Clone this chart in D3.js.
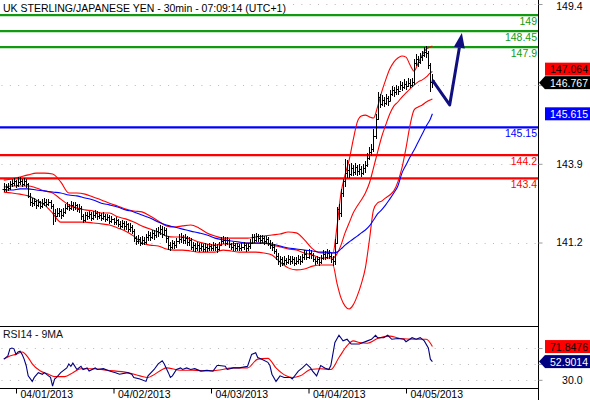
<!DOCTYPE html>
<html lang="en">
<head>
  <meta charset="UTF-8">
  <title>GBP/JPY 30min</title>
  <script src="https://d3js.org/d3.v7.min.js"></script>
  <style>
    body { margin: 0; background: #fff; }
    svg { display: block; font-family: "Liberation Sans", Arial, sans-serif; font-size: 10.5px; }
  </style>
</head>
<body>
<svg width="590" height="400"></svg>
<script>
const title = `UK STERLING/JAPANESE YEN - 30min - 07:09:14 (UTC+1)`;
const rsiTitle = `RSI14 - 9MA`;

// 30 minute bars, first one opens Sunday 31 March 21:00
const firstBar = Date.UTC(2013, 2, 31, 21, 0);
const dayTicks = ['2013-04-01', '2013-04-02', '2013-04-03', '2013-04-04', '2013-04-05'];
const priceTicks = [141.2, 143.9, 146.6, 149.4];
const rsiTicks = [30, 50, 70];

const highs = [
  143.20,143.18,143.22,143.28,143.36,143.38,143.32,143.40,143.42,143.36,
  143.38,143.34,143.20,142.85,142.68,142.70,142.64,142.66,142.60,142.65,
  142.68,142.65,142.66,142.62,142.50,142.30,142.35,142.36,142.30,142.34,
  142.48,142.55,142.50,142.58,142.55,142.56,142.50,142.48,142.42,142.15,
  142.22,142.22,142.25,142.20,142.25,142.28,142.24,142.22,142.18,142.20,
  142.15,142.16,142.12,142.08,142.02,142.05,141.98,141.92,141.95,141.90,
  141.90,141.85,141.82,141.78,141.62,141.40,141.42,141.36,141.38,141.35,
  141.45,141.55,141.52,141.60,141.58,141.68,141.70,141.75,141.72,141.70,
  141.65,141.40,141.20,141.25,141.22,141.32,141.45,141.48,141.44,141.45,
  141.38,141.36,141.32,141.20,141.15,141.18,141.14,141.16,141.12,141.14,
  141.12,141.15,141.12,141.18,141.14,141.10,141.20,141.35,141.38,141.34,
  141.36,141.30,141.16,141.18,141.14,141.16,141.12,141.14,141.18,141.14,
  141.16,141.30,141.46,141.45,141.48,141.46,141.42,141.44,141.40,141.40,
  141.36,141.25,141.18,141.10,140.95,140.80,140.72,140.68,140.70,140.65,
  140.75,140.70,140.72,140.66,140.68,140.74,140.70,140.78,140.92,140.88,
  140.95,140.90,140.82,140.68,140.72,140.66,140.75,140.90,140.86,140.94,
  140.90,140.80,140.70,141.30,142.40,142.49,143.00,143.34,144.03,144.00,
  143.85,143.90,143.82,143.88,143.82,143.85,143.80,143.85,143.95,144.25,
  144.45,144.55,145.06,145.57,146.33,146.25,146.22,146.15,146.25,146.20,
  146.40,146.52,146.50,146.58,146.55,146.72,146.68,146.76,146.72,146.80,
  146.78,146.82,147.46,147.62,147.58,147.65,147.75,147.86,147.90,147.75,
  147.32,146.95
];
const lows = [
  142.95,142.98,143.00,143.05,143.15,143.18,143.12,143.15,143.20,143.14,
  143.18,143.10,142.75,142.50,142.45,142.48,142.40,142.46,142.38,142.42,
  142.48,142.45,142.48,142.40,141.83,141.95,142.10,142.12,142.05,142.10,
  142.20,142.35,142.30,142.36,142.32,142.35,142.28,142.25,142.00,141.92,
  141.95,142.00,142.05,141.98,142.02,142.08,142.02,142.04,141.96,142.00,
  141.95,141.98,141.88,141.90,141.82,141.85,141.78,141.70,141.72,141.68,
  141.66,141.60,141.58,141.52,141.25,141.15,141.18,141.12,141.15,141.14,
  141.18,141.30,141.28,141.35,141.32,141.40,141.42,141.48,141.40,141.45,
  141.22,140.98,140.95,141.00,141.02,141.05,141.20,141.22,141.18,141.20,
  141.12,141.10,140.98,140.96,140.92,140.95,140.90,140.94,140.90,140.92,
  140.92,140.95,140.94,140.96,140.95,140.88,140.95,141.10,141.18,141.12,
  141.15,141.06,140.98,140.96,140.95,140.96,140.94,140.95,140.98,140.92,
  140.95,141.02,141.18,141.22,141.25,141.25,141.18,141.22,141.15,141.18,
  141.10,141.00,140.95,140.84,140.65,140.45,140.40,140.42,140.45,140.45,
  140.48,140.46,140.50,140.42,140.45,140.50,140.46,140.52,140.65,140.62,
  140.68,140.66,140.55,140.45,140.48,140.44,140.50,140.65,140.62,140.68,
  140.66,140.52,140.42,140.45,141.18,142.00,142.10,142.80,143.15,143.45,
  143.45,143.50,143.52,143.55,143.50,143.55,143.48,143.55,143.62,143.82,
  144.05,144.20,144.35,144.80,145.42,145.85,145.90,145.88,145.95,145.92,
  146.10,146.25,146.24,146.30,146.30,146.45,146.42,146.50,146.48,146.56,
  146.54,146.58,146.65,147.28,147.25,147.35,147.45,147.60,147.58,147.20,
  146.40,146.55
];
const closes = [
  143.05,143.12,143.08,143.20,143.25,143.30,143.18,143.28,143.32,143.22,
  143.30,143.20,142.80,142.60,142.55,142.62,142.50,142.58,142.45,142.55,
  142.60,142.52,142.58,142.45,142.20,142.10,142.20,142.28,142.15,142.25,
  142.40,142.45,142.38,142.50,142.42,142.48,142.35,142.40,142.10,141.98,
  142.15,142.10,142.18,142.05,142.15,142.22,142.10,142.16,142.05,142.12,
  142.02,142.08,141.95,142.00,141.90,141.96,141.85,141.78,141.88,141.75,
  141.82,141.68,141.74,141.60,141.35,141.25,141.32,141.20,141.30,141.22,
  141.38,141.45,141.40,141.52,141.45,141.60,141.55,141.65,141.50,141.62,
  141.35,141.10,141.05,141.18,141.10,141.25,141.32,141.40,141.28,141.35,
  141.22,141.30,141.05,141.12,141.02,141.10,141.00,141.08,140.98,141.06,
  141.00,141.08,141.02,141.10,141.04,140.98,141.12,141.25,141.30,141.20,
  141.28,141.15,141.05,141.10,141.02,141.08,141.00,141.06,141.10,141.02,
  141.08,141.20,141.38,141.30,141.42,141.35,141.28,141.36,141.25,141.32,
  141.18,141.10,141.05,140.90,140.75,140.55,140.65,140.50,140.60,140.52,
  140.65,140.55,140.62,140.50,140.58,140.65,140.55,140.70,140.80,140.72,
  140.85,140.78,140.62,140.55,140.62,140.52,140.68,140.80,140.72,140.85,
  140.75,140.62,140.55,141.20,142.35,142.20,142.90,143.30,143.60,143.70,
  143.55,143.75,143.62,143.78,143.65,143.72,143.60,143.75,143.85,144.10,
  144.30,144.40,144.85,145.45,146.20,145.95,146.10,145.98,146.15,146.05,
  146.30,146.42,146.35,146.48,146.40,146.60,146.52,146.65,146.58,146.68,
  146.62,146.72,147.35,147.50,147.40,147.55,147.62,147.75,147.70,147.30,
  146.70,146.767
];

// Bollinger bands and the blue moving average, read at these bars
const bandBars = [
  0,4,8,12,16,20,24,28,32,36,40,44,48,52,56,60,64,68,72,76,
  80,84,88,92,96,100,104,108,112,116,120,124,128,132,136,140,144,148,152,156,
  160,162,164,166,168,170,172,174,176,178,180,182,184,186,188,190,192,194,196,198,
  200,202,204,206,208,210,211
];
const bbUpper = [
  143.34,143.38,143.45,143.52,143.58,143.58,143.55,143.28,142.90,142.90,
  142.86,142.76,142.66,142.55,142.45,142.35,142.28,142.25,142.11,141.94,
  141.77,141.73,141.77,141.80,141.70,141.53,141.42,141.35,141.35,141.35,
  141.35,141.39,141.42,141.46,141.49,141.56,141.53,141.29,140.98,140.84,
  140.84,140.84,141.73,142.90,143.52,144.03,144.72,145.33,145.54,145.57,
  145.51,145.47,145.85,146.36,146.78,147.15,147.39,147.53,147.60,147.56,
  147.29,147.08,147.36,147.63,147.84,147.91,147.94
];
const bbMiddle = [
  143.10,143.14,143.14,143.14,143.07,142.97,142.90,142.69,142.49,142.38,
  142.32,142.28,142.21,142.21,142.08,142.01,141.90,141.77,141.66,141.56,
  141.42,141.39,141.39,141.32,141.22,141.15,141.11,141.15,141.15,141.18,
  141.18,141.18,141.18,141.11,141.05,140.98,140.94,140.84,140.77,140.67,
  140.67,140.67,140.81,141.11,141.53,141.87,142.21,142.45,142.66,142.90,
  143.24,143.76,144.30,144.82,145.23,145.61,145.88,146.02,146.19,146.33,
  146.47,146.60,146.71,146.78,146.88,147.02,147.064
];
const bbLower = [
  142.93,142.90,142.86,142.80,142.66,142.49,142.21,141.90,141.90,141.90,
  141.90,141.87,141.84,141.80,141.70,141.59,141.42,141.18,141.11,141.08,
  140.98,140.94,140.94,140.91,140.87,140.87,140.87,140.94,140.91,140.87,
  140.87,140.87,140.84,140.77,140.53,140.33,140.26,140.29,140.39,140.43,
  140.43,140.43,139.81,139.30,139.02,138.92,139.06,139.37,139.78,140.33,
  141.29,142.32,142.56,142.62,142.73,142.83,142.97,143.28,143.76,144.44,
  145.23,145.75,145.85,145.92,146.02,146.09,146.12
];
const maBlue = [
  143.00,143.00,143.04,143.04,143.00,142.97,142.93,142.90,142.83,142.80,
  142.73,142.66,142.55,142.49,142.42,142.32,142.25,142.14,142.04,141.90,
  141.80,141.73,141.66,141.59,141.53,141.46,141.35,141.29,141.25,141.22,
  141.18,141.18,141.18,141.15,141.08,141.01,140.98,140.94,140.91,140.87,
  140.87,140.84,140.87,140.98,141.11,141.22,141.32,141.42,141.53,141.63,
  141.77,141.97,142.18,142.32,142.49,142.69,142.90,143.14,143.58,143.86,
  144.13,144.37,144.65,144.92,145.20,145.44,145.615
];

// horizontal price levels
const greenLevels = [149, 148.45, 147.9];
const blueLevels = [145.15];
const redLevels = [144.2, 143.4];

// projected path drawn as an arrow
const projBars = [211, 219.5, 225.5];
const projPrices = [146.767, 145.92, 148.39];

// RSI14 and its 9 bar average
const rsiBars = [
  0,2,3,4,5,6,7,8,9,10,11,12,14,15,17,19,20,22,23,24,
  25,26,28,31,32,33,34,36,38,39,41,42,45,46,49,52,55,57,61,63,
  64,67,70,71,74,76,78,79,81,82,83,85,87,88,90,92,94,97,100,103,
  105,106,109,110,113,116,120,122,124,125,127,130,131,132,134,136,138,141,142,145,
  147,149,151,152,154,156,158,160,161,163,165,167,169,171,175,179,181,183,184,187,
  189,191,194,197,198,201,203,205,207,209,210,211
];
const rsiValues = [
  56,60,69,70,69,62,65,66,62,56,48,35,28,33,39,37,39,35,33,22,
  31,33,39,45,50,47,51,43,47,43,45,41,45,43,44,41,39,37,39,37,
  33,31,28,35,43,50,54,50,39,33,35,43,45,43,45,43,44,41,42,41,
  48,48,47,43,45,45,47,62,64,58,56,52,48,37,28,35,33,33,31,41,
  45,50,45,41,35,48,45,43,48,77,86,79,81,75,75,79,81,86,83,83,
  86,81,82,81,78,83,81,83,79,70,56,52.9014
];
const rsiMaBars = [
  0,3,6,9,12,14,18,22,25,30,34,38,44,51,61,67,71,73,78,80,
  87,93,100,105,113,120,125,130,134,139,142,146,151,156,161,165,169,172,175,179,
  184,190,195,202,208,211
];
const rsiMaValues = [
  56,60,62,65,58,50,41,37,34,34,39,44,44,42,39,35,33,35,43,45,
  42,42,41,42,45,45,56,57,45,35,33,35,43,44,43,58,73,79,77,76,
  82,85,82,81,81,71.8476
];

const svg = d3.select('svg');
const plotRight = 538.5;
const mainBottom = 326.5;
const rsiBottom = 388.5;
const green = '#119a11';

const halfHour = 30 * 60 * 1000;
const x = d3.scaleUtc()
  .domain([Date.UTC(2013, 3, 1), Date.UTC(2013, 3, 5)])
  .range([16, 406]);
const xBar = i => x(new Date(firstBar + i * halfHour));

const yPrice = d3.scaleLinear().domain([138.336, 149.519]).range([326, 0]);
const yRsi = d3.scaleLinear().domain([19.7, 97.7]).range([388, 326]);

svg.append('clipPath').attr('id', 'mainClip')
  .append('rect').attr('x', 0).attr('y', 0).attr('width', plotRight).attr('height', 326);

// dotted grid
const grid = svg.append('g')
  .attr('stroke', '#b8b8b8')
  .attr('stroke-dasharray', '1,7.33');
priceTicks.forEach(v => {
  const yy = Math.max(4, Math.round(yPrice(v))) + 0.5;
  grid.append('line').attr('x1', 1.5).attr('x2', 536).attr('y1', yy).attr('y2', yy);
});
rsiTicks.forEach(v => {
  const yy = Math.round(yRsi(v)) + 0.5;
  grid.append('line').attr('x1', 1.5).attr('x2', 536).attr('y1', yy).attr('y2', yy);
});

const main = svg.append('g').attr('clip-path', 'url(#mainClip)');

// horizontal levels
const levelGroups = [
  { values: greenLevels, color: green },
  { values: blueLevels, color: '#0000ff' },
  { values: redLevels, color: '#ff0000' },
];
levelGroups.forEach(g => {
  g.values.forEach(v => {
    main.append('line')
      .attr('x1', 0).attr('x2', plotRight)
      .attr('y1', yPrice(v)).attr('y2', yPrice(v))
      .attr('stroke', g.color).attr('stroke-width', 2.2);
    svg.append('text')
      .attr('x', 537).attr('y', yPrice(v) + 9.5)
      .attr('text-anchor', 'end')
      .attr('fill', g.color)
      .text(v);
  });
});

// bands + moving average
const bandLine = vals => d3.line()
  .x((b, k) => xBar(b))
  .y((b, k) => yPrice(vals[k]))
  .curve(d3.curveMonotoneX)(bandBars);

[bbUpper, bbMiddle, bbLower].forEach(vals => {
  main.append('path').attr('d', bandLine(vals))
    .attr('fill', 'none').attr('stroke', '#ff0000').attr('stroke-width', 1.1);
});
main.append('path').attr('d', bandLine(maBlue))
  .attr('fill', 'none').attr('stroke', '#0000ff').attr('stroke-width', 1.1);

// OHLC bars (open = previous close)
const bars = closes.map((c, i) => ({
  i, o: i ? closes[i - 1] : c, h: highs[i], l: lows[i], c,
}));
main.append('g')
  .attr('stroke', '#000')
  .attr('stroke-width', 1)
  .attr('fill', 'none')
  .selectAll('path')
  .data(bars)
  .join('path')
  .attr('d', d => {
    const cx = Math.round(xBar(d.i)) + 0.5;
    const yo = Math.round(yPrice(d.o)) + 0.5;
    const yc = Math.round(yPrice(d.c)) + 0.5;
    return `M${cx},${Math.round(yPrice(d.h)) - 1}V${Math.round(yPrice(d.l)) + 1}` +
      `M${cx - 2},${yo}H${cx}M${cx},${yc}H${cx + 2}`;
  });

// projection arrow
const proj = projBars.map((b, k) => [xBar(b), yPrice(projPrices[k])]);
const tip = proj[proj.length - 1];
const prev = proj[proj.length - 2];
const len = Math.hypot(tip[0] - prev[0], tip[1] - prev[1]);
const ux = (tip[0] - prev[0]) / len;
const uy = (tip[1] - prev[1]) / len;
const headLen = 15, headW = 5.5;
const base = [tip[0] - ux * headLen, tip[1] - uy * headLen];
main.append('path')
  .attr('d', d3.line()(proj.slice(0, -1).concat([base])))
  .attr('fill', 'none').attr('stroke', '#0f0f80').attr('stroke-width', 3)
  .attr('stroke-linejoin', 'round');
main.append('path')
  .attr('d', d3.line()([tip, [base[0] - uy * headW, base[1] + ux * headW], [base[0] + uy * headW, base[1] - ux * headW]]) + 'Z')
  .attr('fill', '#0f0f80');

// RSI panel
const rsiLine = (idx, vals, curve) => d3.line()
  .x(b => xBar(b))
  .y((b, k) => yRsi(vals[k]))
  .curve(curve)(idx);
svg.append('path').attr('d', rsiLine(rsiMaBars, rsiMaValues, d3.curveMonotoneX))
  .attr('fill', 'none').attr('stroke', '#ff0000').attr('stroke-width', 1.1);
svg.append('path').attr('d', rsiLine(rsiBars, rsiValues, d3.curveLinear))
  .attr('fill', 'none').attr('stroke', '#000080').attr('stroke-width', 1.1);

// frame lines
svg.append('line').attr('x1', 0).attr('x2', plotRight).attr('y1', mainBottom).attr('y2', mainBottom).attr('stroke', '#000');
svg.append('line').attr('x1', 0).attr('x2', plotRight).attr('y1', rsiBottom).attr('y2', rsiBottom).attr('stroke', '#000');
svg.append('line').attr('x1', plotRight).attr('x2', plotRight).attr('y1', 0).attr('y2', 400).attr('stroke', '#000');

// titles
svg.append('rect').attr('x', 0).attr('y', 0).attr('width', 289).attr('height', 13).attr('fill', '#fff');
svg.append('text').attr('x', 3).attr('y', 11.5).attr('fill', '#000').text(title);
svg.append('text').attr('x', 3).attr('y', 337.5).attr('fill', '#111').text(rsiTitle);

// value boxes on the right
function placeBoxes(list, scale) {
  list.forEach(b => { b.y = scale(b.v); });
  const sorted = list.slice().sort((a, b) => a.y - b.y);
  for (let k = 1; k < sorted.length; k++) {
    const gap = sorted[k].y - sorted[k - 1].y;
    if (gap < 13.5) {
      const push = (13.5 - gap) / 2;
      sorted[k - 1].y -= push;
      sorted[k].y += push;
    }
  }
  return list;
}
const priceBoxes = placeBoxes([
  { v: bbMiddle[bbMiddle.length - 1], fill: '#ff0000', ink: '#000', digits: 3 },
  { v: closes[closes.length - 1], fill: '#000', ink: '#fff', digits: 3, arrow: true },
  { v: maBlue[maBlue.length - 1], fill: '#0000ff', ink: '#fff', digits: 3 },
], yPrice);
const rsiBoxes = placeBoxes([
  { v: rsiMaValues[rsiMaValues.length - 1], fill: '#ff0000', ink: '#000', digits: 4 },
  { v: rsiValues[rsiValues.length - 1], fill: '#000080', ink: '#fff', digits: 4, arrow: true },
], yRsi);

// axes
const yAxis = d3.axisRight(yPrice).tickValues(priceTicks).tickSize(4).tickFormat(d3.format('.1f'));
const gy = svg.append('g').attr('transform', `translate(${plotRight},0)`).call(yAxis);
const rAxis = d3.axisRight(yRsi).tickValues(rsiTicks).tickSize(4).tickFormat(d3.format('.1f'));
const gr = svg.append('g').attr('transform', `translate(${plotRight},0)`).call(rAxis);
[[gy, priceBoxes], [gr, rsiBoxes]].forEach(([g, boxes]) => {
  g.select('.domain').remove();
  g.selectAll('.tick line').attr('stroke', '#999');
  g.selectAll('.tick').each(function () {
    const ty = +this.getAttribute('transform').match(/,([\d.]+)\)/)[1];
    const tick = d3.select(this);
    const lift = Math.max(0, 7 - ty);
    tick.select('line').attr('y1', Math.max(0, 4.5 - ty)).attr('y2', Math.max(0, 4.5 - ty));
    tick.select('text')
      .attr('text-anchor', 'end')
      .attr('x', 44)
      .attr('y', lift)
      .attr('font-size', '10.5px')
      .attr('font-family', '"Liberation Sans", Arial, sans-serif')
      .attr('fill', '#000');
    if (boxes.some(b => Math.abs(b.y - ty) < 11)) tick.select('text').remove();
  });
});

const xAxis = d3.axisBottom(x)
  .tickValues(dayTicks.map(d => new Date(d + 'T00:00:00Z')))
  .tickSize(5)
  .tickFormat(d3.utcFormat('%m/%d/%Y'));
const gx = svg.append('g').attr('transform', `translate(0,${rsiBottom})`).call(xAxis);
gx.select('.domain').remove();
gx.selectAll('.tick line').attr('stroke', '#000');
gx.selectAll('.tick text')
  .attr('text-anchor', 'start')
  .attr('x', 4).attr('y', 9).attr('dy', null)
  .attr('font-size', '10.5px')
  .attr('font-family', '"Liberation Sans", Arial, sans-serif')
  .attr('fill', '#000');

priceBoxes.concat(rsiBoxes).forEach(b => {
  const top = b.y - 6.5;
  if (b.arrow) {
    svg.append('path')
      .attr('d', `M539,${b.y}L545,${top}L545,${top + 13}Z`)
      .attr('fill', b.fill);
  }
  svg.append('rect').attr('x', 545).attr('y', top).attr('width', 45).attr('height', 13).attr('fill', b.fill);
  svg.append('text').attr('x', 588).attr('y', b.y + 4)
    .attr('text-anchor', 'end').attr('fill', b.ink)
    .text(b.v.toFixed(b.digits));
});
</script>
</body>
</html>
